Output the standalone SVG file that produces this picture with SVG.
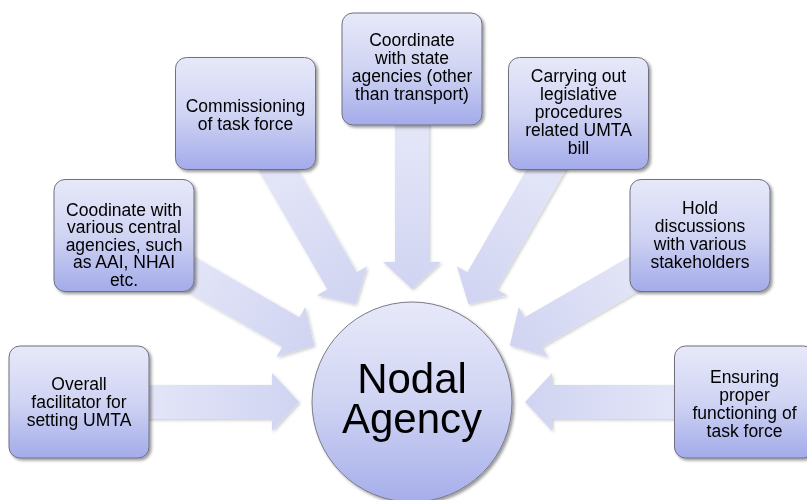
<svg xmlns="http://www.w3.org/2000/svg" xmlns:xlink="http://www.w3.org/1999/xlink" width="807" height="500" viewBox="0 0 807 500">
<defs>
<linearGradient id="boxGrad" x1="0" y1="0" x2="0" y2="1">
<stop offset="0" stop-color="#e7e9f9"/>
<stop offset="0.5" stop-color="#d0d4f3"/>
<stop offset="1" stop-color="#a3abea"/>
</linearGradient>
<linearGradient id="circGrad" x1="0" y1="0" x2="0" y2="1">
<stop offset="0" stop-color="#e7e9f9"/>
<stop offset="0.5" stop-color="#d0d4f3"/>
<stop offset="1" stop-color="#a6aeea"/>
</linearGradient>
<linearGradient id="arrowGrad" x1="0" y1="0" x2="1" y2="0">
<stop offset="0" stop-color="#d0d4f1"/>
<stop offset="0.65" stop-color="#e2e4f7"/>
<stop offset="1" stop-color="#e6e8f8"/>
</linearGradient>
<filter id="shadow" x="-20%" y="-20%" width="140%" height="140%">
<feDropShadow dx="2" dy="2" stdDeviation="1.8" flood-color="#000" flood-opacity="0.4"/>
</filter>
<filter id="ashadow" x="-20%" y="-20%" width="140%" height="140%">
<feDropShadow dx="1.5" dy="1.5" stdDeviation="1.5" flood-color="#000" flood-opacity="0.2"/>
</filter>
<path id="arrow" d="M525,402 L552,373 L552,385 L745,385 L745,419 L552,419 L552,431 Z" fill="url(#arrowGrad)"/>
</defs>
<style>
.box{fill:url(#boxGrad);stroke:#6f7080;stroke-width:1;filter:url(#shadow)}
.lbl{font-family:"Liberation Sans",Arial,sans-serif;font-size:17.5px;fill:#000;text-anchor:middle}
.big{font-family:"Liberation Sans",Arial,sans-serif;font-size:42px;fill:#000;text-anchor:middle}
</style>
<rect width="807" height="500" fill="#ffffff"/>
<g id="connectors" filter="url(#ashadow)">
<use xlink:href="#arrow" href="#arrow"/>
<use xlink:href="#arrow" href="#arrow" transform="rotate(-30 412 402)"/>
<use xlink:href="#arrow" href="#arrow" transform="rotate(-60 412 402)"/>
<use xlink:href="#arrow" href="#arrow" transform="rotate(-90 412 402)"/>
<use xlink:href="#arrow" href="#arrow" transform="rotate(-120 412 402)"/>
<use xlink:href="#arrow" href="#arrow" transform="rotate(-150 412 402)"/>
<use xlink:href="#arrow" href="#arrow" transform="rotate(180 412 402)"/>
</g>
<g id="nodal">
<circle cx="412" cy="402" r="100" fill="url(#circGrad)" stroke="#7a7b88" stroke-width="1" filter="url(#shadow)"/>
<text class="big" x="412" y="393">Nodal</text>
<text class="big" x="412" y="432.5">Agency</text>
</g>
<g id="n1">
<rect class="box" x="9" y="346" width="140" height="112" rx="11"/>
<text class="lbl" x="79" y="390">Overall</text>
<text class="lbl" x="79" y="408">facilitator for</text>
<text class="lbl" x="79" y="426">setting UMTA</text>
</g>
<g id="n2">
<rect class="box" x="54" y="179.5" width="140" height="112" rx="11"/>
<text class="lbl" x="124" y="215.5">Coodinate with</text>
<text class="lbl" x="124" y="233">various central</text>
<text class="lbl" x="124" y="250.5">agencies, such</text>
<text class="lbl" x="124" y="268">as AAI, NHAI</text>
<text class="lbl" x="124" y="285.5">etc.</text>
</g>
<g id="n3">
<rect class="box" x="175.5" y="57.5" width="140" height="112" rx="11"/>
<text class="lbl" x="245.5" y="111.5">Commissioning</text>
<text class="lbl" x="245.5" y="129.5">of task force</text>
</g>
<g id="n4">
<rect class="box" x="342" y="13" width="140" height="112" rx="11"/>
<text class="lbl" x="412" y="46">Coordinate</text>
<text class="lbl" x="412" y="64">with state</text>
<text class="lbl" x="412" y="82">agencies (other</text>
<text class="lbl" x="412" y="100">than transport)</text>
</g>
<g id="n5">
<rect class="box" x="508.5" y="57.5" width="140" height="112" rx="11"/>
<text class="lbl" x="578.5" y="82">Carrying out</text>
<text class="lbl" x="578.5" y="100">legislative</text>
<text class="lbl" x="578.5" y="118">procedures</text>
<text class="lbl" x="578.5" y="136">related UMTA</text>
<text class="lbl" x="578.5" y="154">bill</text>
</g>
<g id="n6">
<rect class="box" x="630" y="179.5" width="140" height="112" rx="11"/>
<text class="lbl" x="700" y="213.5">Hold</text>
<text class="lbl" x="700" y="231.5">discussions</text>
<text class="lbl" x="700" y="249.5">with various</text>
<text class="lbl" x="700" y="267.5">stakeholders</text>
</g>
<g id="n7">
<rect class="box" x="674.5" y="346" width="140" height="112" rx="11"/>
<text class="lbl" x="744.5" y="382.5">Ensuring</text>
<text class="lbl" x="744.5" y="400.5">proper</text>
<text class="lbl" x="744.5" y="418.5">functioning of</text>
<text class="lbl" x="744.5" y="436.5">task force</text>
</g>
</svg>
